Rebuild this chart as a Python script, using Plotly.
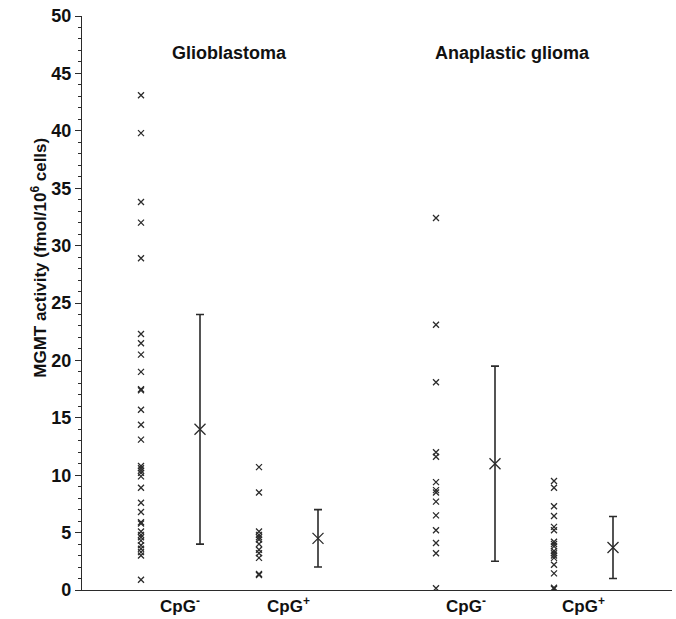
import plotly.graph_objects as go

# ---- data ----
group_titles = ["Glioblastoma", "Anaplastic glioma"]
category_labels = ["CpG<sup>-</sup>", "CpG<sup>+</sup>", "CpG<sup>-</sup>", "CpG<sup>+</sup>"]

glio_cpg_neg = [43.1, 39.8, 33.8, 32.0, 28.9, 22.3, 21.5, 20.5, 19.0, 17.5, 17.4,
                15.7, 14.4, 13.1, 10.8, 10.6, 10.4, 10.2, 9.9, 8.9, 7.6, 6.8,
                5.9, 5.8, 5.1, 4.8, 4.6, 4.3, 3.9, 3.6, 3.3, 3.0, 0.9]
glio_cpg_pos = [10.7, 8.5, 5.1, 4.8, 4.6, 4.4, 4.0, 3.5, 3.2, 2.8, 1.4, 1.3]
ana_cpg_neg = [32.4, 23.1, 18.1, 12.0, 11.6, 9.4, 8.7, 8.5, 7.7, 6.5, 5.2, 4.1, 3.2, 0.15]
ana_cpg_pos = [9.5, 8.9, 7.3, 6.45, 5.5, 5.2, 4.2, 4.0, 3.8, 3.4, 3.2, 3.0, 2.8,
               2.2, 1.45, 0.2, 0.1]

means = [14.0, 4.5, 11.0, 3.7]
err_plus = [10.0, 2.5, 8.5, 2.7]
err_minus = [10.0, 2.5, 8.5, 2.7]

# layout positions (category slots)
point_x = [1.0, 2.0, 3.5, 4.5]
mean_offset = 0.5
label_x = [1.33, 2.25, 3.75, 4.75]
title_x = [1.75, 4.15]

series = [glio_cpg_neg, glio_cpg_pos, ana_cpg_neg, ana_cpg_pos]

ink = "#2b2b2b"
font_family = "Liberation Sans, Arial, sans-serif"

fig = go.Figure()

for px, vals in zip(point_x, series):
    fig.add_trace(go.Scatter(
        x=[px] * len(vals), y=vals, mode="markers",
        marker=dict(symbol="x-thin", size=6, line=dict(width=1.3, color=ink)),
        showlegend=False, hoverinfo="y"))

fig.add_trace(go.Scatter(
    x=[p + mean_offset for p in point_x], y=means, mode="markers",
    marker=dict(symbol="x-thin", size=11, line=dict(width=1.3, color=ink)),
    error_y=dict(type="data", array=err_plus, arrayminus=err_minus,
                 color=ink, thickness=1.6, width=4),
    showlegend=False, hoverinfo="y"))

annotations = []
for tx, t in zip(title_x, group_titles):
    annotations.append(dict(x=tx, y=46.8, xref="x", yref="y", text="<b>%s</b>" % t,
                            showarrow=False, xanchor="center", yanchor="middle",
                            font=dict(size=18, color="#111", family=font_family)))

for lx, lab in zip(label_x, category_labels):
    annotations.append(dict(x=lx, y=0, xref="x", yref="y", text="<b>%s</b>" % lab,
                            showarrow=False, xanchor="center", yanchor="top", yshift=-2,
                            font=dict(size=17, color="#111", family=font_family)))

annotations.append(dict(x=-0.072, y=0.578, xref="paper", yref="paper",
                        text="<b>MGMT activity (fmol/10<sup>6</sup> cells)</b>",
                        textangle=-90, showarrow=False, xanchor="center", yanchor="middle",
                        font=dict(size=17, color="#111", family=font_family)))

fig.update_layout(
    width=676, height=619,
    margin=dict(l=82, r=4, t=16, b=29),
    plot_bgcolor="white", paper_bgcolor="white",
    font=dict(family=font_family, color="#111"),
    annotations=annotations,
    xaxis=dict(range=[0.5, 5.5], showgrid=False, zeroline=False,
               showline=True, linecolor=ink, linewidth=1.2,
               showticklabels=False, ticks=""),
    yaxis=dict(range=[0, 50], showgrid=False, zeroline=False, automargin=False,
               showline=True, linecolor=ink, linewidth=1.2,
               tickmode="linear", tick0=0, dtick=5, ticklabeloverflow="allow",
               ticks="outside", ticklen=6, tickcolor=ink, tickwidth=1,
               minor=dict(ticks="outside", ticklen=3, dtick=1, tickcolor=ink, tickwidth=1),
               tickfont=dict(size=18, color="#111", family=font_family, weight="bold")),
)

# remove the default 8px page margin so the figure fills the window exactly
fig.write_html("out.html", config={"displayModeBar": False},
               post_script="document.body.style.margin='0px';")
